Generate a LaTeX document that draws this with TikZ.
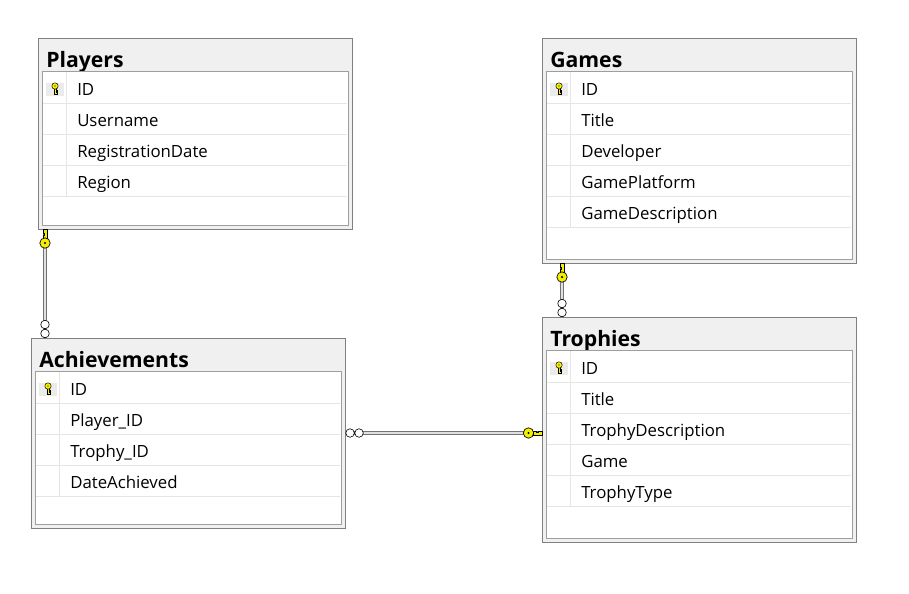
\documentclass[tikz,border=0pt]{standalone}
\usepackage{fontspec}
\setmainfont{Open Sans}
\usetikzlibrary{calc, positioning}
\definecolor{keyyellow}{HTML}{F4EE00}
\definecolor{tablefill}{HTML}{F0F0F0}

\begin{document}
\begin{tikzpicture}[
  x=0.75pt, y=-0.75pt,
  font=\fontsize{12.6}{14}\selectfont,
  tablebox/.style={draw=black!50, fill=tablefill, anchor=north west, inner sep=0pt, minimum width=314*0.75pt},
  fieldbox/.style={draw=black!38, fill=white, anchor=north west, inner sep=0pt, minimum width=306*0.75pt},
  title/.style={anchor=base west, inner sep=0pt, font=\fontsize{15.9}{18}\selectfont\bfseries},
  field/.style={anchor=base west, inner sep=0pt},
  sep/.style={draw=black!10, line width=0.5pt},
  rel/.style={draw=black!55, double=black!12, double distance=1.3pt, line width=0.5pt},
  pkey/.pic={
    \fill[black!8] (-9,-6) rectangle (9,7);
    \draw[fill=keyyellow, line width=0.35pt] (-1,0) -- (1,0) -- (1,1.5) -- (2.5,1.5) -- (2.5,3) -- (1,3)
      -- (1,4) -- (2.5,4) -- (2.5,5.5) -- (-1,5.5) -- cycle;
    \draw[fill=keyyellow, line width=0.35pt] (0,-2.5) circle[radius=2.4pt];
    \fill (0,-2.5) circle[radius=0.5pt];
  },
  fkey/.pic={
    \draw[fill=keyyellow, line width=0.4pt] (0,-1.8) -- (9,-1.8) -- (9,1.8) -- (6,1.8) -- (6,0.6)
      -- (4,0.6) -- (4,1.8) -- (0,1.8) -- cycle;
    \draw[fill=keyyellow, line width=0.5pt] (13.5,0) circle[radius=3.9pt];
    \fill (13.5,0) circle[radius=0.9pt];
  },
  many/.pic={
    \draw[fill=white, line width=0.45pt] (4.5,0) circle[radius=3.2pt] (13.5,0) circle[radius=3.2pt];
  }
]
  \useasboundingbox (0,0) rectangle (909,593);

  % Players
  \node[tablebox, minimum height=191*0.75pt] (players) at (38,38) {};
  \node[title] (players-title) at ($(players.north west)+(8,29)$) {Players};
  \node[fieldbox, minimum height=154*0.75pt] (players-fields) at ($(players.north west)+(4,33)$) {};
  \foreach \f [count=\i from 0] in {ID, Username, RegistrationDate, Region} {
    \node[field] (players-\i) at ($(players-fields.north west)+(35,24+31*\i)$) {\f};
    \draw[sep] ($(players-fields.north west)+(1,32+31*\i)$) -- ++(304,0);
  }
  \draw[sep] ($(players-fields.north west)+(24,1)$) -- ++(0,124);
  \pic at ($(players-fields.north west)+(13,17.5)$) {pkey};

  % Games
  \node[tablebox, minimum height=225*0.75pt] (games) at (542,38) {};
  \node[title] (games-title) at ($(games.north west)+(8,29)$) {Games};
  \node[fieldbox, minimum height=188*0.75pt] (games-fields) at ($(games.north west)+(4,33)$) {};
  \foreach \f [count=\i from 0] in {ID, Title, Developer, GamePlatform, GameDescription} {
    \node[field] (games-\i) at ($(games-fields.north west)+(35,24+31*\i)$) {\f};
    \draw[sep] ($(games-fields.north west)+(1,32+31*\i)$) -- ++(304,0);
  }
  \draw[sep] ($(games-fields.north west)+(24,1)$) -- ++(0,155);
  \pic at ($(games-fields.north west)+(13,17.5)$) {pkey};

  % Achievements
  \node[tablebox, minimum height=190*0.75pt] (achievements) at (31,338) {};
  \node[title] (achievements-title) at ($(achievements.north west)+(8,29)$) {Achievements};
  \node[fieldbox, minimum height=153*0.75pt] (achievements-fields) at ($(achievements.north west)+(4,33)$) {};
  \foreach \f [count=\i from 0] in {ID, Player\_ID, Trophy\_ID, DateAchieved} {
    \node[field] (achievements-\i) at ($(achievements-fields.north west)+(35,24+31*\i)$) {\f};
    \draw[sep] ($(achievements-fields.north west)+(1,32+31*\i)$) -- ++(304,0);
  }
  \draw[sep] ($(achievements-fields.north west)+(24,1)$) -- ++(0,124);
  \pic at ($(achievements-fields.north west)+(13,17.5)$) {pkey};

  % Trophies
  \node[tablebox, minimum height=225*0.75pt] (trophies) at (542,317) {};
  \node[title] (trophies-title) at ($(trophies.north west)+(8,29)$) {Trophies};
  \node[fieldbox, minimum height=188*0.75pt] (trophies-fields) at ($(trophies.north west)+(4,33)$) {};
  \foreach \f [count=\i from 0] in {ID, Title, TrophyDescription, Game, TrophyType} {
    \node[field] (trophies-\i) at ($(trophies-fields.north west)+(35,24+31*\i)$) {\f};
    \draw[sep] ($(trophies-fields.north west)+(1,32+31*\i)$) -- ++(304,0);
  }
  \draw[sep] ($(trophies-fields.north west)+(24,1)$) -- ++(0,155);
  \pic at ($(trophies-fields.north west)+(13,17.5)$) {pkey};

  % relations
  \coordinate (pa) at ($(players.south west)+(7,0)$);
  \coordinate (gt) at ($(games.south west)+(20,0)$);
  \coordinate (at) at ($(achievements.north east)+(0,95)$);
  \draw[rel] (pa) -- (pa |- achievements.north);
  \draw[rel] (gt) -- (gt |- trophies.north);
  \draw[rel] (at) -- (at -| trophies.west);
  \pic[rotate=-90] at (pa) {fkey};
  \pic[rotate=90] at (pa |- achievements.north) {many};
  \pic[rotate=-90] at (gt) {fkey};
  \pic[rotate=90] at (gt |- trophies.north) {many};
  \pic at (at) {many};
  \pic[rotate=180] at (at -| trophies.west) {fkey};
\end{tikzpicture}
\end{document}
